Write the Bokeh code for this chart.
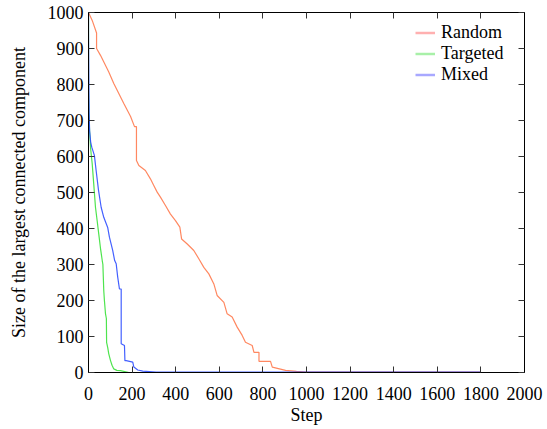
from bokeh.plotting import figure
from bokeh.models import (Range1d, LinearAxis, Legend, LegendItem, FixedTicker,
                          CustomLabelingPolicy)
from bokeh.embed import file_html
from bokeh.resources import INLINE

# ---- data ----
random_step = [0, 17, 37, 37, 55, 93, 116, 162, 193, 211, 220, 220, 231, 261, 284, 300, 315, 330,
               353, 376, 399, 419, 427, 453, 483, 506, 529, 552, 575, 590, 621, 636, 659, 682,
               705, 720, 751, 759, 782, 782, 835, 843, 904, 954, 1000, 1800]
random_size = [1000, 978, 943, 900, 881, 835, 803, 747, 711, 683, 683, 589, 575, 561, 538, 519, 501, 487,
               464, 440, 422, 404, 371, 357, 339, 316, 292, 274, 246, 214, 195, 163, 154, 126,
               103, 84, 75, 56, 56, 31, 31, 15, 6, 3, 1, 1]

targeted_step = [0, 0, 2, 5, 10, 17, 24, 32, 40, 47, 55, 63, 66, 70, 73, 78, 82, 83, 88, 93,
                 101, 108, 116, 130, 147, 185, 1800]
targeted_size = [1000, 790, 720, 670, 620, 580, 524, 459, 420, 385, 345, 311, 300, 228, 200, 163, 150, 84, 70, 52,
                 33, 20, 10, 6, 5, 0, 0]

mixed_step = [0, 0, 2, 3, 5, 10, 15, 27, 35, 46, 58, 70, 88, 96, 111, 120, 127, 134, 142, 150,
              150, 165, 167, 173, 203, 208, 226, 249, 310, 1800]
mixed_size = [1000, 945, 780, 720, 672, 640, 626, 603, 561, 506, 459, 431, 403, 376, 339, 311, 302, 265, 232, 232,
              80, 75, 33, 33, 29, 15, 7, 4, 1, 1]

x_ticks = [0, 200, 400, 600, 800, 1000, 1200, 1400, 1600, 1800, 2000]
y_ticks = [0, 100, 200, 300, 400, 500, 600, 700, 800, 900, 1000]

FONT = "Liberation Serif"
FS = "18px"
NAN = float("nan")

p = figure(frame_width=436, frame_height=360,
           x_range=Range1d(0, 2000), y_range=Range1d(0, 1000),
           output_backend="svg", toolbar_location=None,
           min_border_left=88, min_border_top=12, min_border_right=20, min_border_bottom=57)

p.background_fill_color = "white"
p.border_fill_color = "white"
p.grid.visible = False
p.outline_line_color = "black"
p.outline_line_width = 1

for ax in (p.xaxis[0], p.yaxis[0]):
    ax.major_tick_in = 6
    ax.major_tick_out = 0
    ax.minor_tick_line_color = None
    ax.major_tick_line_color = "#333333"
    ax.axis_line_color = "black"
    ax.major_label_text_font = FONT
    ax.major_label_text_font_size = FS
    ax.major_label_text_color = "black"
    ax.axis_label_text_font = FONT
    ax.axis_label_text_font_size = FS
    ax.axis_label_text_font_style = "normal"
    ax.axis_label_text_color = "black"

p.xaxis[0].ticker = FixedTicker(ticks=x_ticks)
p.yaxis[0].ticker = FixedTicker(ticks=y_ticks)
p.xaxis[0].axis_label = "Step"
p.yaxis[0].axis_label = "Size of the largest connected component"
p.xaxis[0].major_label_standoff = 14
p.xaxis[0].axis_label_standoff = 2
p.yaxis[0].major_label_standoff = 5
p.yaxis[0].axis_label_standoff = 16

# mirrored ticks on top and right, without labels
hide_all = CustomLabelingPolicy(code="""
try { indices.clear() } catch (e) { for (let i = 0; i < indices.size; i++) indices.unset(i) }
return indices
""")
top = LinearAxis(ticker=FixedTicker(ticks=x_ticks), major_tick_in=6, major_tick_out=0,
                 minor_tick_line_color=None, major_label_policy=hide_all,
                 major_label_standoff=0, axis_line_color="black", major_tick_line_color="#333333")
right = LinearAxis(ticker=FixedTicker(ticks=y_ticks), major_tick_in=6, major_tick_out=0,
                   minor_tick_line_color=None, major_label_policy=hide_all,
                   major_label_standoff=0, axis_line_color="black", major_tick_line_color="#333333")
p.add_layout(top, "above")
p.add_layout(right, "right")

# data lines
p.line(random_step, random_size, line_color="#ff6a3a", line_width=1.2, line_alpha=0.8)
p.line(targeted_step, targeted_size, line_color="#22dd22", line_width=1.2, line_alpha=0.8)
p.line(mixed_step, mixed_size, line_color="#2244ff", line_width=1.2, line_alpha=0.85)

# legend-only renderers (lighter, thicker samples as in the reference); NaN data draws nothing
lr = p.line([NAN, NAN], [NAN, NAN], line_color="#ffb0b0", line_width=2.5)
lt = p.line([NAN, NAN], [NAN, NAN], line_color="#a8f0a8", line_width=2.5)
lm = p.line([NAN, NAN], [NAN, NAN], line_color="#a8a8ff", line_width=2.5)

legend = Legend(items=[LegendItem(label="Random", renderers=[lr]),
                       LegendItem(label="Targeted", renderers=[lt]),
                       LegendItem(label="Mixed", renderers=[lm])],
                location=(327, 287), padding=0, margin=0, spacing=0,
                label_height=21, glyph_height=21, glyph_width=20, label_standoff=6,
                border_line_color=None, background_fill_alpha=0,
                label_text_font=FONT, label_text_font_size=FS, label_text_color="black")
p.add_layout(legend)

open("out.html", "w").write(file_html(p, INLINE))
